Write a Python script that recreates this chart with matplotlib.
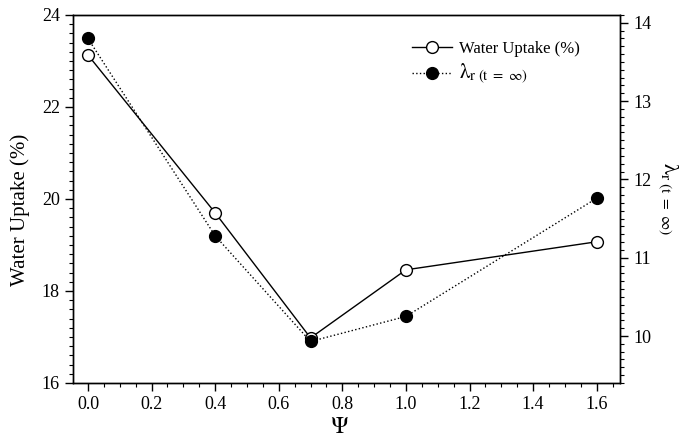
import matplotlib
matplotlib.use("Agg")
import matplotlib.pyplot as plt
from matplotlib.ticker import MultipleLocator

psi = [0.0, 0.4, 0.7, 1.0, 1.6]
water_uptake = [23.13, 19.70, 16.98, 18.46, 19.07]
lambda_r = [13.80, 11.28, 9.93, 10.25, 11.76]
xtick_labels = ['0.0', '0.2', '0.4', '0.6', '0.8', '1.0', '1.2', '1.4', '1.6']

plt.rcParams['font.family'] = ['Liberation Serif', 'DejaVu Serif']
plt.rcParams['mathtext.fontset'] = 'stix'

lam_label = r'$\mathrm{\lambda}_{\mathrm{r}\ (\mathrm{t}\ =\ \infty)}$'

fig = plt.figure(figsize=(6.79, 4.38), dpi=100)
ax = fig.add_axes([0.1075, 0.1256, 0.8055, 0.8402])
ax2 = ax.twinx()

l1, = ax.plot(psi, water_uptake, '-', color='black', lw=1.0, marker='o',
              markersize=8.5, markerfacecolor='white', markeredgecolor='black',
              markeredgewidth=1.0, label='Water Uptake (%)')
l2, = ax2.plot(psi, lambda_r, ':', color='black', lw=1.0, marker='o',
               markersize=8.5, markerfacecolor='black', markeredgecolor='black',
               label=lam_label)

ax.set_xlim(-0.047, 1.673)
ax.set_ylim(16, 24)
ax2.set_ylim(9.4, 14.1)

ax.xaxis.set_minor_locator(MultipleLocator(0.05))
ax.yaxis.set_major_locator(MultipleLocator(2))
ax.yaxis.set_minor_locator(MultipleLocator(0.2))
ax2.yaxis.set_major_locator(MultipleLocator(1))
ax2.yaxis.set_minor_locator(MultipleLocator(0.1))

ax.set_xticks([float(t) for t in xtick_labels])
ax.set_xticklabels(xtick_labels)

for a in (ax, ax2):
    a.tick_params(which='major', direction='out', length=6, width=1.0, labelsize=13)
    a.tick_params(which='minor', direction='out', length=3, width=0.8)
    for s in a.spines.values():
        s.set_linewidth(1.0)

ax.set_xlabel(r'$\Psi$', fontsize=17)
ax.xaxis.set_label_coords(0.488, -0.092)
ax.set_ylabel('Water Uptake (%)', fontsize=15)
ax.yaxis.set_label_coords(-0.079, 0.47)
ax2.set_ylabel(lam_label, fontsize=16, rotation=270, labelpad=21)

leg = ax.legend(handles=[l1, l2], loc='upper left', bbox_to_anchor=(0.62, 0.93),
                frameon=False, fontsize=12, handlelength=2.4, borderaxespad=0,
                borderpad=0, handletextpad=0.4, labelspacing=0.3)
leg.get_texts()[1].set_fontsize(15)

fig.savefig('out.png', dpi=100)
